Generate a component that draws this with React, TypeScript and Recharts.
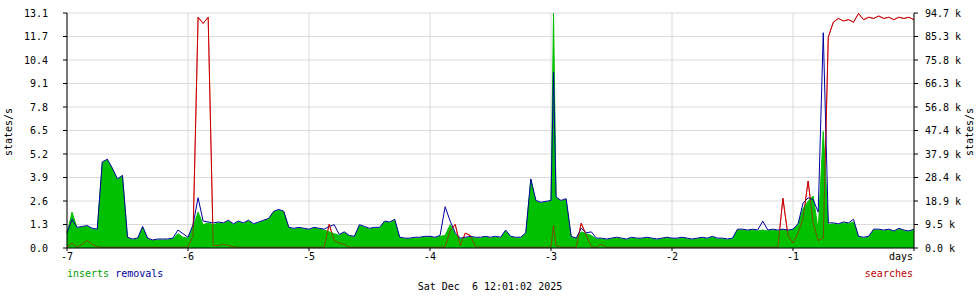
import React from "react";
import { ComposedChart, Area, Line, XAxis, YAxis, CartesianGrid } from "recharts";

// hourly samples, hour offsets from -168 (7 days ago) to 0
const inserts = [
  0.8, 2.0, 1.1, 1.15, 1.2, 1.05, 1.0, 4.75, 4.9, 4.4, 3.8, 4.0,
  0.55, 0.45, 0.5, 1.15, 0.5, 0.4, 0.45, 0.45, 0.45, 0.5, 0.8, 0.6,
  0.55, 1.2, 2.0, 1.3, 1.4, 1.3, 1.4, 1.35, 1.5, 1.3, 1.45, 1.35,
  1.5, 1.3, 1.4, 1.5, 1.6, 2.0, 2.1, 2.0, 1.1, 1.05, 1.1, 1.05,
  1.0, 1.1, 1.05, 1.0, 0.9, 0.8, 0.7, 0.85, 0.65, 0.6, 1.25, 1.15,
  1.05, 1.1, 1.1, 1.45, 1.4, 1.55, 0.55, 0.5, 0.5, 0.55, 0.55, 0.6,
  0.6, 0.55, 0.65, 0.7, 1.3, 0.8, 0.5, 0.55, 0.6, 0.55, 0.55, 0.6,
  0.55, 0.6, 0.55, 0.95, 0.6, 0.55, 0.55, 0.8, 3.8, 2.6, 2.5, 2.55,
  2.6, 2.8, 2.6, 2.7, 0.6, 0.5, 0.9, 0.8, 0.7, 0.5, 0.5, 0.45,
  0.5, 0.55, 0.5, 0.45, 0.55, 0.5, 0.5, 0.55, 0.5, 0.45, 0.5, 0.55,
  0.5, 0.5, 0.55, 0.5, 0.45, 0.5, 0.55, 0.5, 0.6, 0.5, 0.5, 0.45,
  0.5, 1.0, 1.0, 0.95, 1.0, 0.95, 1.0, 0.95, 1.0, 0.95, 1.0, 0.95,
  1.0, 1.3, 2.2, 2.6, 2.9, 1.0, 6.5, 1.3, 1.35, 1.3, 1.4, 1.35,
  1.45, 0.6, 0.55, 0.6, 1.0, 1.0, 0.95, 1.0, 0.9, 1.05, 0.95, 0.9,
  1.0,
];

const removals = [
  0.85, 1.6, 1.15, 1.2, 1.25, 1.1, 1.05, 4.8, 4.95, 4.45, 3.85, 4.05,
  0.6, 0.5, 0.55, 1.2, 0.55, 0.45, 0.5, 0.5, 0.5, 0.55, 1.0, 0.8,
  0.6, 1.3, 2.8, 1.5, 1.45, 1.4, 1.45, 1.4, 1.55, 1.35, 1.5, 1.4,
  1.55, 1.35, 1.45, 1.55, 1.65, 2.05, 2.15, 2.05, 1.15, 1.1, 1.15, 1.1,
  1.05, 1.15, 1.1, 1.05, 1.2, 1.3, 0.75, 0.9, 0.7, 0.65, 1.3, 1.2,
  1.1, 1.15, 1.15, 1.5, 1.45, 1.6, 0.6, 0.55, 0.55, 0.6, 0.6, 0.65,
  0.65, 0.6, 0.7, 2.3, 1.5, 0.85, 0.55, 0.6, 0.65, 0.6, 0.6, 0.65,
  0.6, 0.65, 0.6, 1.0, 0.65, 0.6, 0.6, 0.85, 3.85, 2.65, 2.55, 2.6,
  2.65, 2.85, 2.65, 2.75, 0.65, 0.55, 1.1, 0.85, 0.9, 0.55, 0.55, 0.5,
  0.55, 0.6, 0.55, 0.5, 0.6, 0.55, 0.55, 0.6, 0.55, 0.5, 0.55, 0.6,
  0.55, 0.55, 0.6, 0.55, 0.5, 0.55, 0.6, 0.55, 0.65, 0.55, 0.55, 0.5,
  0.55, 1.05, 1.05, 1.0, 1.05, 1.0, 1.5, 1.0, 1.05, 1.0, 1.05, 1.0,
  1.05, 1.35, 2.5, 2.8, 2.7, 2.0, 12.0, 1.4, 1.4, 1.35, 1.45, 1.4,
  1.6, 0.65, 0.6, 0.65, 1.05, 1.05, 1.0, 1.05, 0.95, 1.1, 1.0, 0.95,
  1.05,
];

// searches in thousands (right axis)
const searches = [
  0.5, 2.0, 0.3, 1.5, 3.0, 1.5, 0.5, 0.3, 0.3, 0.3, 0.3, 0.3,
  0.3, 0.3, 0.3, 0.3, 0.3, 0.3, 0.3, 0.3, 0.3, 0.3, 0.3, 0.3,
  0.3, 5, 93, 90.5, 93, 1, 1.0, 1.5, 1.0, 0.5, 0.3, 0.3,
  0.3, 0.3, 0.3, 0.3, 0.3, 0.3, 0.3, 0.3, 0.3, 0.3, 0.3, 0.3,
  0.3, 0.3, 0.3, 0.3, 9.5, 3, 2, 1.5, 0.3, 0.3, 0.3, 0.3,
  0.3, 0.3, 0.3, 0.3, 0.3, 0.3, 0.3, 0.3, 0.3, 0.3, 0.3, 0.3,
  0.3, 0.3, 0.3, 0.5, 7, 9.5, 1, 6, 5, 0.5, 0.3, 0.3,
  0.3, 0.3, 0.3, 0.3, 0.3, 0.3, 0.3, 0.3, 0.3, 0.3, 0.3, 0.3,
  0.5, 1, 0.3, 0.3, 0.3, 0.3, 10, 5, 0.5, 0.3, 1.5, 0.3,
  0.3, 0.3, 0.3, 0.3, 0.3, 0.3, 0.3, 0.3, 0.3, 0.3, 0.3, 0.3,
  0.3, 0.3, 0.3, 0.3, 0.3, 0.3, 0.3, 0.3, 0.3, 0.3, 0.3, 0.3,
  0.3, 0.3, 0.3, 0.3, 0.3, 0.3, 0.3, 0.3, 0.3, 0.3, 20, 5,
  2, 6, 12, 27, 10, 3, 4, 85, 91.0, 92.5, 91.5, 92.0,
  91.0, 94.5, 92.0, 93.0, 92.5, 93.5, 92.5, 93.0, 92.0, 93.0, 92.5, 93.0,
  92.0,
];

// one extra sample for the short burst just after -3 days
const extraSamples = [{ h: -71.5, inserts: 13.1, removals: 9.8, searches: 9 }];

const xTicks = [-168, -144, -120, -96, -72, -48, -24, 0];
const xTickLabels = ["-7", "-6", "-5", "-4", "-3", "-2", "-1", "days"];

const leftTicks = [0, 1.31, 2.62, 3.93, 5.24, 6.55, 7.86, 9.17, 10.48, 11.79, 13.1];
const leftTickLabels = ["0.0", "1.3", "2.6", "3.9", "5.2", "6.5", "7.8", "9.1", "10.4", "11.7", "13.1"];

const rightTicks = [0, 9.47, 18.94, 28.41, 37.88, 47.35, 56.82, 66.29, 75.76, 85.23, 94.7];
const rightTickLabels = ["0.0 k", "9.5 k", "18.9 k", "28.4 k", "37.9 k", "47.4 k", "56.8 k", "66.3 k", "75.8 k", "85.3 k", "94.7 k"];

const FONT = "DejaVu Sans Mono";

const data = [
  ...inserts.map((v, i) => ({ h: i - 168, inserts: v, removals: removals[i], searches: searches[i] })),
  ...extraSamples,
].sort((a, b) => a.h - b.h);

const XTick = (props: any) => {
  const { x, y, payload } = props;
  const idx = xTicks.indexOf(payload.value);
  const last = payload.value === 0;
  return (
    <text x={last ? x - 1 : x} y={y} dy="0.71em" textAnchor={last ? "end" : "middle"} fill="#000" fontSize={10} fontFamily={FONT}>
      {xTickLabels[idx]}
    </text>
  );
};

export default function App() {
  return (
    <div style={{ position: "absolute", left: 0, top: 0, width: 980, height: 300, background: "#fff" }}>
      <ComposedChart width={980} height={300} data={data} margin={{ top: 13, right: 0, bottom: 22, left: 0 }}>
        <CartesianGrid yAxisId="left" stroke="#dadada" strokeWidth={1} />
        <XAxis
          type="number"
          dataKey="h"
          domain={[-168, 0]}
          ticks={xTicks}
          interval={0}
          height={30}
          tickSize={3}
          tickMargin={2}
          tick={<XTick />}
          axisLine={{ stroke: "#000" }}
          tickLine={{ stroke: "#000" }}
        />
        <YAxis
          yAxisId="left"
          domain={[0, 13.1]}
          ticks={leftTicks}
          interval={0}
          width={67}
          tickSize={4}
          tickMargin={15}
          tickFormatter={(v: number) => leftTickLabels[leftTicks.indexOf(v)]}
          tick={{ fill: "#000", fontSize: 10, fontFamily: FONT }}
          axisLine={{ stroke: "#000" }}
          tickLine={{ stroke: "#000" }}
        />
        <YAxis
          yAxisId="right"
          orientation="right"
          domain={[0, 94.7]}
          ticks={rightTicks}
          interval={0}
          width={66}
          tickSize={4}
          tickMargin={7}
          tickFormatter={(v: number) => rightTickLabels[rightTicks.indexOf(v)]}
          tick={{ fill: "#000", fontSize: 10, fontFamily: FONT, textAnchor: "start" }}
          axisLine={{ stroke: "#000" }}
          tickLine={{ stroke: "#000" }}
        />
        <Line
          yAxisId="right"
          type="linear"
          dataKey="searches"
          stroke="#cc0000"
          strokeWidth={1}
          dot={false}
          activeDot={false}
          isAnimationActive={false}
          zIndex={90}
        />
        <Area
          yAxisId="left"
          type="linear"
          dataKey="inserts"
          stroke="#00c000"
          strokeWidth={1}
          fill="#00c000"
          fillOpacity={1}
          dot={false}
          activeDot={false}
          isAnimationActive={false}
          zIndex={100}
        />
        <Line
          yAxisId="left"
          type="linear"
          dataKey="removals"
          stroke="#0000a0"
          strokeWidth={1}
          dot={false}
          activeDot={false}
          isAnimationActive={false}
          zIndex={400}
        />
        <Line
          yAxisId="right"
          type="linear"
          dataKey="searches"
          stroke="#cc0000"
          strokeOpacity={0.6}
          strokeWidth={1}
          dot={false}
          activeDot={false}
          isAnimationActive={false}
          zIndex={410}
        />
      </ComposedChart>
      <svg width={980} height={300} style={{ position: "absolute", left: 0, top: 0, pointerEvents: "none" }}>
        <text transform="translate(12,132) rotate(-90)" textAnchor="middle" fontSize={10} fontFamily={FONT} fill="#000">
          states/s
        </text>
        <text transform="translate(973,132) rotate(-90)" textAnchor="middle" fontSize={10} fontFamily={FONT} fill="#000">
          states/s
        </text>
        <text x={67} y={277} fontSize={10} fontFamily={FONT} xmlSpace="preserve" style={{ whiteSpace: "pre" }}>
          <tspan fill="#00a000">inserts</tspan>
          <tspan fill="#0000a0"> removals</tspan>
        </text>
        <text x={913} y={277} textAnchor="end" fontSize={10} fontFamily={FONT} fill="#c00000">
          searches
        </text>
        <text x={490} y={290} textAnchor="middle" fontSize={10} fontFamily={FONT} fill="#000" xmlSpace="preserve" style={{ whiteSpace: "pre" }}>
          {"Sat Dec  6 12:01:02 2025"}
        </text>
      </svg>
    </div>
  );
}
